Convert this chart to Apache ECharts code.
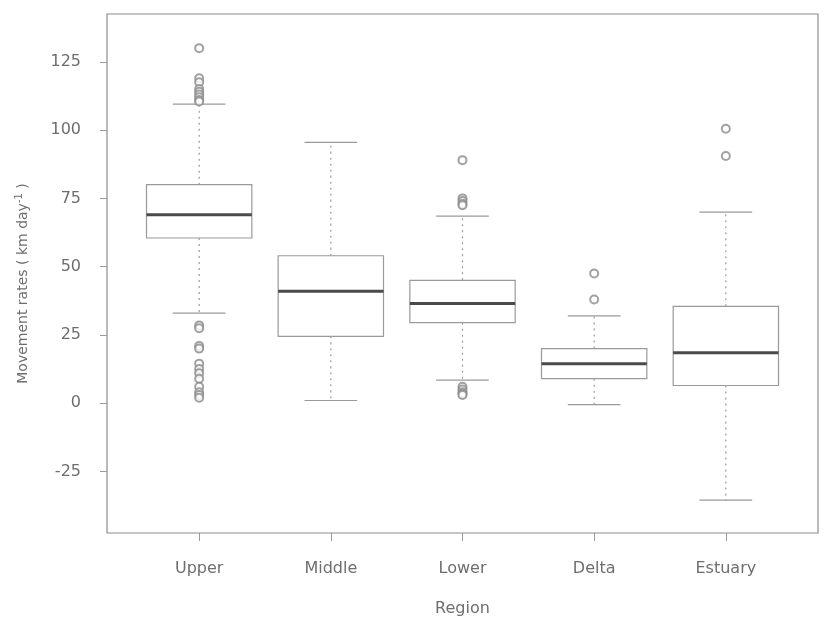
<!DOCTYPE html>
<html>
<head>
<meta charset="utf-8">
<script src="https://cdn.jsdelivr.net/npm/echarts@6/dist/echarts.min.js"></script>
<style>
  html, body { margin: 0; padding: 0; background: #fff; }
  #chart { width: 825px; height: 623px; }
</style>
</head>
<body>
<div id="chart"></div>
<script>
// Movement rates by river region: five-number summaries plus outliers
const categories = ['Upper', 'Middle', 'Lower', 'Delta', 'Estuary'];
const lowerWhisker = [33, 1, 8.5, -0.5, -35.5];
const q1 = [60.5, 24.5, 29.5, 9, 6.5];
const median = [69, 41, 36.5, 14.5, 18.5];
const q3 = [80, 54, 45, 20, 35.5];
const upperWhisker = [109.5, 95.5, 68.5, 32, 70];
const outliers = [
  [130, 119, 117.5, 115, 114, 113, 112, 111, 110.5, 28.5, 27.5, 21, 20, 14.5, 12.5, 11, 9, 6, 4, 3, 2],
  [],
  [89, 75, 74, 73, 72.5, 6, 5, 4, 3.5, 3],
  [47.5, 38],
  [100.5, 90.5]
];
const yTicks = [-25, 0, 25, 50, 75, 100, 125];

const textColor = '#6e6e6e';
const lineColor = '#9a9a9a';

const boxData = categories.map((c, i) => [i + 1, lowerWhisker[i], q1[i], median[i], q3[i], upperWhisker[i]]);
const outlierData = [];
outliers.forEach((list, i) => list.forEach(v => outlierData.push([i + 1, v])));

function renderBox(params, api) {
  const x = api.value(0);
  const lo = api.coord([x, api.value(1)]);
  const b1 = api.coord([x, api.value(2)]);
  const md = api.coord([x, api.value(3)]);
  const b3 = api.coord([x, api.value(4)]);
  const hi = api.coord([x, api.value(5)]);
  const boxW = api.size([0.8, 0])[0];
  const capW = api.size([0.4, 0])[0];
  const cx = lo[0];
  const dashed = { stroke: lineColor, lineWidth: 1.2, lineDash: [2, 4] };
  const solid = { stroke: lineColor, lineWidth: 1.2 };
  return {
    type: 'group',
    children: [
      { type: 'line', shape: { x1: cx, y1: b3[1], x2: cx, y2: hi[1] }, style: dashed },
      { type: 'line', shape: { x1: cx, y1: b1[1], x2: cx, y2: lo[1] }, style: dashed },
      { type: 'line', shape: { x1: cx - capW / 2, y1: hi[1], x2: cx + capW / 2, y2: hi[1] }, style: solid },
      { type: 'line', shape: { x1: cx - capW / 2, y1: lo[1], x2: cx + capW / 2, y2: lo[1] }, style: solid },
      { type: 'rect', shape: { x: cx - boxW / 2, y: b3[1], width: boxW, height: b1[1] - b3[1] },
        style: { fill: '#fff', stroke: lineColor, lineWidth: 1.2 } },
      { type: 'line', shape: { x1: cx - boxW / 2, y1: md[1], x2: cx + boxW / 2, y2: md[1] },
        style: { stroke: '#4a4a4a', lineWidth: 3 } }
    ]
  };
}

const chart = echarts.init(document.getElementById('chart'), null, { renderer: 'canvas' });
chart.setOption({
  backgroundColor: '#fff',
  animation: false,
  grid: {
    left: 107, right: 7, top: 14, bottom: 90,
    show: true, borderColor: '#8c8c8c', borderWidth: 1.2, backgroundColor: 'transparent'
  },
  xAxis: {
    type: 'value', min: 0.3, max: 5.7,
    name: 'Region', nameLocation: 'middle', nameGap: 68,
    nameTextStyle: { fontFamily: 'DejaVu Sans', fontSize: 16, color: textColor },
    axisLine: { show: false, onZero: false },
    axisTick: { show: true, length: 8, customValues: [1, 2, 3, 4, 5], lineStyle: { color: lineColor } },
    axisLabel: {
      customValues: [1, 2, 3, 4, 5], margin: 28,
      formatter: v => categories[Math.round(v) - 1],
      fontFamily: 'DejaVu Sans', fontSize: 16, color: textColor
    },
    splitLine: { show: false }
  },
  yAxis: {
    type: 'value', min: -47.5, max: 142.5,
    name: 'Movement rates ( km day{sup|-1} )', nameLocation: 'middle', nameGap: 74, nameRotate: 90,
    nameTextStyle: {
      fontFamily: 'DejaVu Sans', fontSize: 14, color: textColor, padding: [0, 20, 0, 0],
      rich: { sup: { fontFamily: 'DejaVu Sans', fontSize: 10, color: textColor, padding: [0, 0, 9, 0] } }
    },
    axisLine: { show: false, onZero: false },
    axisTick: { show: true, length: 7, customValues: yTicks, lineStyle: { color: lineColor } },
    axisLabel: {
      customValues: yTicks, margin: 26,
      fontFamily: 'DejaVu Sans', fontSize: 16, color: textColor
    },
    splitLine: { show: false }
  },
  series: [
    {
      type: 'custom',
      renderItem: renderBox,
      encode: { x: 0, y: [1, 2, 3, 4, 5] },
      data: boxData,
      z: 2
    },
    {
      type: 'scatter',
      data: outlierData,
      symbol: 'emptyCircle',
      symbolSize: 8,
      itemStyle: { color: '#8a8a8a', borderColor: '#8a8a8a', borderWidth: 1.3 },
      z: 3
    }
  ]
});
</script>
</body>
</html>
